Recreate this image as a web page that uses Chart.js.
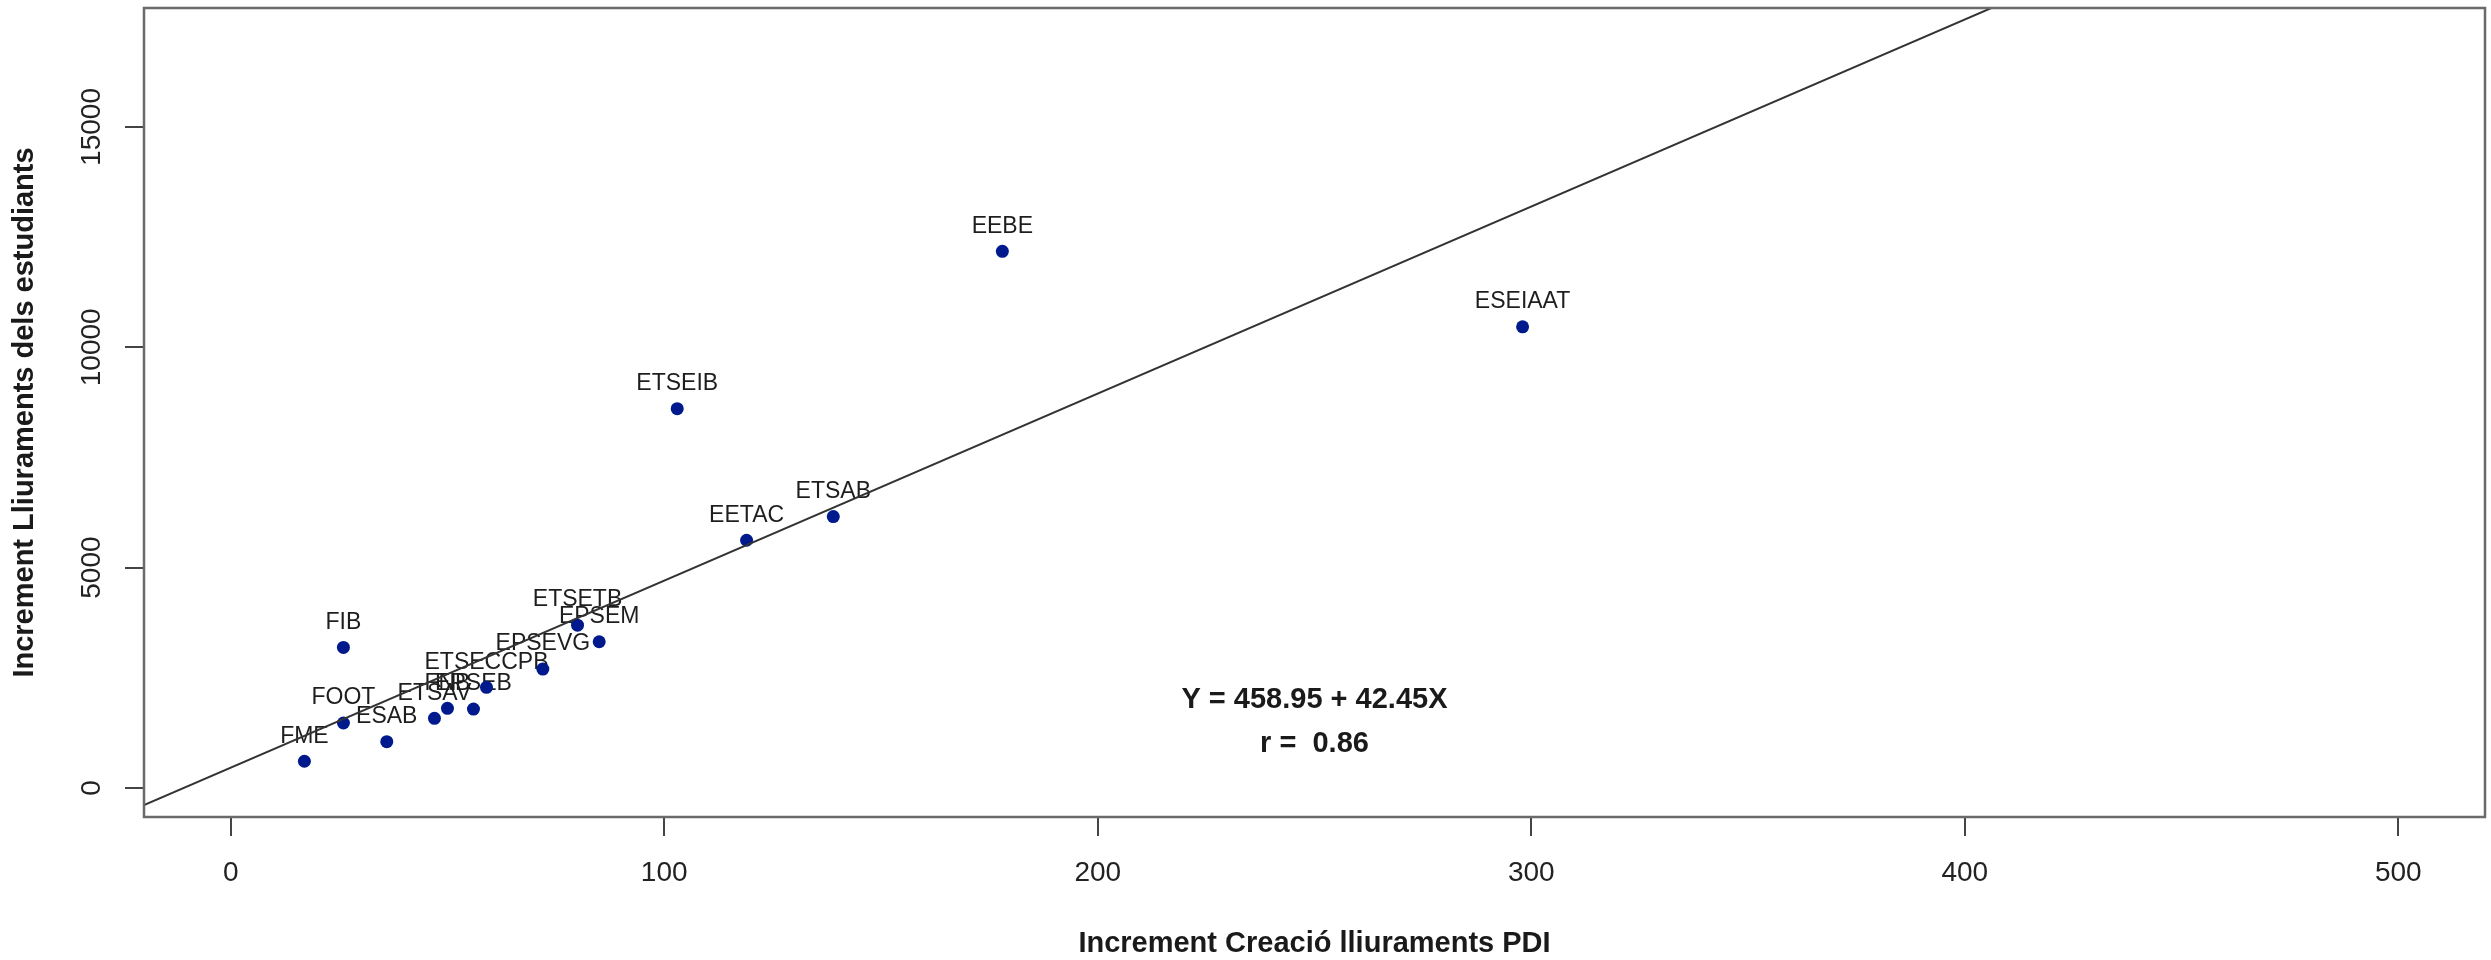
<!DOCTYPE html>
<html lang="ca">
<head>
<meta charset="UTF-8">
<title>Increment lliuraments</title>
<script src="https://cdn.jsdelivr.net/npm/chart.js"></script>
<style>
    html, body { margin: 0; padding: 0; background: #ffffff; }
    #wrap { width: 2491px; height: 960px; }
</style>
</head>
<body>
<div id="wrap"><canvas id="chart" width="2491" height="960"></canvas></div>
<script>
// school codes and the two increments
const schools = ["FME", "FOOT", "FIB", "ESAB", "ETSAV", "FNB", "EPSEB", "ETSECCPB",
                 "EPSEVG", "ETSETB", "EPSEM", "ETSEIB", "EETAC", "ETSAB", "EEBE", "ESEIAAT"];
const creacioPDI = [17, 26, 26, 36, 47, 50, 56, 59, 72, 80, 85, 103, 119, 139, 178, 298];
const lliuramentsEst = [605, 1473, 3189, 1050, 1579, 1806, 1790, 2282, 2697, 3694, 3317,
                        8606, 5621, 6158, 12178, 10464];

// fitted line shown on the chart
const intercept = 458.95;
const slope = 42.45;
const corr = 0.86;

const xTicks = [0, 100, 200, 300, 400, 500];
const yTicks = [0, 5000, 10000, 15000];
const xRange = [-20, 520];
const yRange = [-660, 17700];

const FONT = "'Liberation Sans', Arial, Helvetica, sans-serif";

const points = schools.map((s, i) => ({ x: creacioPDI[i], y: lliuramentsEst[i], label: s }));
const fitLine = xRange.map(x => ({ x: x, y: intercept + slope * x }));

// school names just above each point (drawn before the marks, like text() before abline())
const pointLabels = {
    id: 'pointLabels',
    beforeDatasetsDraw(chart) {
        const ctx = chart.ctx;
        const meta = chart.getDatasetMeta(1);
        ctx.save();
        ctx.font = "23px " + FONT;
        ctx.fillStyle = '#1e1e1e';
        ctx.textAlign = 'center';
        ctx.textBaseline = 'middle';
        meta.data.forEach((el, i) => {
            ctx.fillText(points[i].label, el.x, el.y - 25);
        });
        ctx.restore();
    }
};

// box around the plot region + equation text
const frameAndNote = {
    id: 'frameAndNote',
    afterDraw(chart) {
        const ctx = chart.ctx;
        const a = chart.chartArea;
        const xs = chart.scales.x, ys = chart.scales.y;
        ctx.save();
        ctx.strokeStyle = '#6a6a6a';
        ctx.lineWidth = 2.5;
        ctx.strokeRect(a.left, a.top, a.right - a.left, a.bottom - a.top);

        ctx.font = "bold 29px " + FONT;
        ctx.fillStyle = '#1a1a1a';
        ctx.textAlign = 'center';
        ctx.textBaseline = 'middle';
        ctx.fillText('Y = ' + intercept.toFixed(2) + ' + ' + slope.toFixed(2) + 'X',
                     xs.getPixelForValue(250), ys.getPixelForValue(2000));
        ctx.fillText('r =  ' + corr.toFixed(2),
                     xs.getPixelForValue(250), ys.getPixelForValue(1000));
        ctx.restore();
    }
};

new Chart(document.getElementById('chart'), {
    type: 'scatter',
    data: {
        datasets: [
            {
                type: 'line',
                data: fitLine,
                borderColor: '#333333',
                borderWidth: 2,
                pointRadius: 0,
                fill: false,
                tension: 0
            },
            {
                data: points,
                backgroundColor: '#00198c',
                borderWidth: 0,
                pointRadius: 6.5,
                pointHoverRadius: 6.5
            }
        ]
    },
    options: {
        responsive: false,
        animation: false,
        devicePixelRatio: 1,
        layout: { autoPadding: false, padding: { top: 8, right: 6, left: 0, bottom: 0 } },
        plugins: { legend: { display: false }, tooltip: { enabled: false } },
        scales: {
            x: {
                type: 'linear',
                min: xRange[0],
                max: xRange[1],
                afterFit: s => { s.height = 143; s.paddingLeft = 0; s.paddingRight = 0; },
                afterBuildTicks: s => { s.ticks = xTicks.map(v => ({ value: v })); },
                ticks: {
                    font: { family: FONT, size: 28 },
                    color: '#222222',
                    padding: 20,
                    maxRotation: 0,
                    callback: v => String(v)
                },
                grid: { drawOnChartArea: false, drawTicks: true, tickLength: 19, color: '#444444', lineWidth: 2 },
                border: { display: false },
                title: {
                    display: true,
                    text: 'Increment Creació lliuraments PDI',
                    font: { family: FONT, size: 29, weight: 'bold', lineHeight: 1.1 },
                    color: '#1a1a1a',
                    padding: { top: 0, bottom: 0 }
                }
            },
            y: {
                type: 'linear',
                min: yRange[0],
                max: yRange[1],
                afterFit: s => { s.width = 144; s.paddingTop = 0; s.paddingBottom = 0; },
                afterBuildTicks: s => { s.ticks = yTicks.map(v => ({ value: v })); },
                ticks: {
                    font: { family: FONT, size: 28 },
                    color: '#222222',
                    padding: -6,
                    minRotation: 90,
                    maxRotation: 90,
                    crossAlign: 'center',
                    callback: v => String(v)
                },
                grid: { drawOnChartArea: false, drawTicks: true, tickLength: 19, color: '#444444', lineWidth: 2 },
                border: { display: false },
                title: {
                    display: true,
                    text: 'Increment Lliuraments dels estudiants',
                    font: { family: FONT, size: 29, weight: 'bold', lineHeight: 1.1 },
                    color: '#1a1a1a',
                    padding: { top: 9, bottom: 0 }
                }
            }
        }
    },
    plugins: [pointLabels, frameAndNote]
});
</script>
</body>
</html>
